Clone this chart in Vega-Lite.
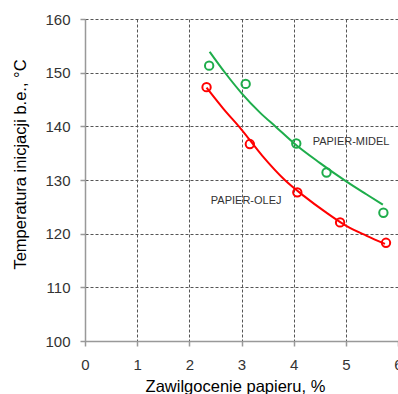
{
  "$schema": "https://vega.github.io/schema/vega-lite/v6.json",
  "autosize": {"type": "none"},
  "padding": {"left": 85, "top": 19, "right": 0, "bottom": 53},
  "width": 313,
  "height": 322,
  "background": "white",
  "config": {
    "view": {"stroke": null},
    "font": "Liberation Sans",
    "axis": {
      "gridDash": [3, 2],
      "gridColor": "#555555",
      "gridWidth": 1,
      "domainColor": "#999999",
      "domainWidth": 1.5,
      "tickColor": "#999999",
      "tickWidth": 1.5,
      "tickSize": 5,
      "labelFont": "Liberation Sans",
      "labelFontSize": 15,
      "labelColor": "#333333",
      "titleFont": "Liberation Sans",
      "titleFontSize": 16.5,
      "titleFontWeight": "normal",
      "titleColor": "#000000"
    }
  },
  "datasets": {
    "fit": [
      {"series": "PAPIER-MIDEL", "x": 2.39, "y": 153.9},
      {"series": "PAPIER-MIDEL", "x": 2.7, "y": 149.8},
      {"series": "PAPIER-MIDEL", "x": 3.0, "y": 146.2},
      {"series": "PAPIER-MIDEL", "x": 3.35, "y": 142.6},
      {"series": "PAPIER-MIDEL", "x": 3.67, "y": 139.8},
      {"series": "PAPIER-MIDEL", "x": 4.0, "y": 136.9},
      {"series": "PAPIER-MIDEL", "x": 4.5, "y": 133.2},
      {"series": "PAPIER-MIDEL", "x": 5.0, "y": 129.8},
      {"series": "PAPIER-MIDEL", "x": 5.4, "y": 127.3},
      {"series": "PAPIER-MIDEL", "x": 5.71, "y": 125.4},
      {"series": "PAPIER-OLEJ", "x": 2.33, "y": 147.2},
      {"series": "PAPIER-OLEJ", "x": 2.65, "y": 143.3},
      {"series": "PAPIER-OLEJ", "x": 3.0, "y": 139.4},
      {"series": "PAPIER-OLEJ", "x": 3.4, "y": 134.5},
      {"series": "PAPIER-OLEJ", "x": 3.83, "y": 130.0},
      {"series": "PAPIER-OLEJ", "x": 4.2, "y": 127.0},
      {"series": "PAPIER-OLEJ", "x": 4.6, "y": 124.1},
      {"series": "PAPIER-OLEJ", "x": 5.0, "y": 121.5},
      {"series": "PAPIER-OLEJ", "x": 5.4, "y": 119.6},
      {"series": "PAPIER-OLEJ", "x": 5.75, "y": 118.1}
    ],
    "obs": [
      {"series": "PAPIER-MIDEL", "x": 2.38, "y": 151.3},
      {"series": "PAPIER-MIDEL", "x": 3.08, "y": 147.9},
      {"series": "PAPIER-MIDEL", "x": 4.05, "y": 136.8},
      {"series": "PAPIER-MIDEL", "x": 4.63, "y": 131.4},
      {"series": "PAPIER-MIDEL", "x": 5.72, "y": 123.9},
      {"series": "PAPIER-OLEJ", "x": 2.33, "y": 147.3},
      {"series": "PAPIER-OLEJ", "x": 3.16, "y": 136.7},
      {"series": "PAPIER-OLEJ", "x": 4.07, "y": 127.7},
      {"series": "PAPIER-OLEJ", "x": 4.89, "y": 122.1},
      {"series": "PAPIER-OLEJ", "x": 5.77, "y": 118.3}
    ],
    "labels": [
      {"label": "PAPIER-MIDEL", "x": 5.1, "y": 137.1},
      {"label": "PAPIER-OLEJ", "x": 3.09, "y": 126.0}
    ]
  },
  "layer": [
    {
      "data": {"name": "fit"},
      "mark": {"type": "line", "interpolate": "monotone", "strokeWidth": 2},
      "encoding": {
        "x": {
          "field": "x", "type": "quantitative",
          "scale": {"domain": [0, 6], "nice": false},
          "axis": {
            "values": [0, 1, 2, 3, 4, 5, 6],
            "title": "Zawilgocenie papieru, %",
            "labelPadding": 11,
            "labelFlush": false,
            "labelOverlap": false,
            "titleBaseline": "alphabetic",
            "titleX": 150,
            "titleY": 50
          }
        },
        "y": {
          "field": "y", "type": "quantitative",
          "scale": {"domain": [100, 160], "nice": false, "zero": false},
          "axis": {
            "values": [100, 110, 120, 130, 140, 150, 160],
            "title": "Temperatura inicjacji b.e., °C",
            "labelPadding": 10,
            "titleAngle": 270,
            "titleBaseline": "middle",
            "titleAlign": "center",
            "titleX": -65,
            "titleY": 145
          }
        },
        "color": {
          "field": "series", "type": "nominal",
          "scale": {"domain": ["PAPIER-MIDEL", "PAPIER-OLEJ"], "range": ["#1EAD4B", "#FF0000"]},
          "legend": null
        },
        "detail": {"field": "series"}
      }
    },
    {
      "data": {"name": "obs"},
      "mark": {"type": "point", "filled": false, "strokeWidth": 2, "size": 70, "opacity": 1},
      "encoding": {
        "x": {"field": "x", "type": "quantitative"},
        "y": {"field": "y", "type": "quantitative"},
        "color": {"field": "series", "type": "nominal", "legend": null}
      }
    },
    {
      "data": {"name": "labels"},
      "mark": {"type": "text", "fontSize": 11, "color": "#333333", "align": "center", "baseline": "middle", "font": "Liberation Sans"},
      "encoding": {
        "x": {"field": "x", "type": "quantitative"},
        "y": {"field": "y", "type": "quantitative"},
        "text": {"field": "label"}
      }
    }
  ]
}
